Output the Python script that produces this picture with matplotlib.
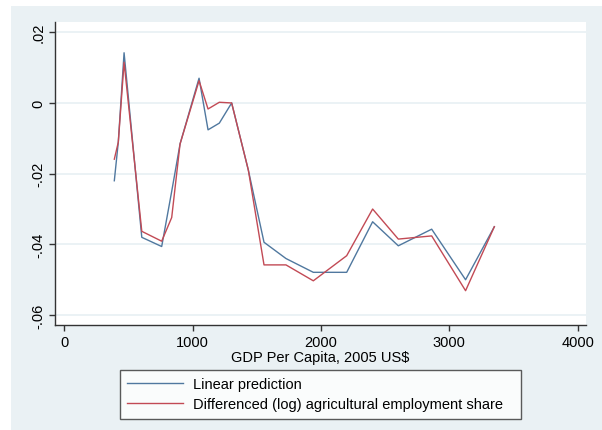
import matplotlib
matplotlib.use("Agg")
import matplotlib.pyplot as plt
from matplotlib.patches import Rectangle

# GDP per capita (x) and the two series
gdp = [390, 421, 466, 604, 759, 837, 902, 1050, 1120, 1208, 1304, 1434,
       1556, 1727, 1940, 2200, 2402, 2602, 2862, 3126, 3350]
linear_pred = [-0.0220, -0.0111, 0.0142, -0.0380, -0.0406, -0.0250, -0.0116,
               0.0070, -0.0076, -0.0057, 0.0000, -0.0190, -0.0394, -0.0440,
               -0.0479, -0.0479, -0.0336, -0.0404, -0.0357, -0.0500, -0.0350]
diff_ag_share = [-0.0159, -0.0111, 0.0115, -0.0363, -0.0391, -0.0324, -0.0116,
                 0.0063, -0.0017, 0.0002, 0.0000, -0.0190, -0.0458, -0.0458,
                 -0.0503, -0.0432, -0.0300, -0.0385, -0.0376, -0.0531, -0.0350]

x_ticks = [0, 1000, 2000, 3000, 4000]
y_ticks = [0.02, 0, -0.02, -0.04, -0.06]
y_labels = [".02", "0", "-.02", "-.04", "-.06"]

plt.rcParams["font.family"] = ["Liberation Sans", "DejaVu Sans"]

W, H = 602, 431
fig = plt.figure(figsize=(W / 100, H / 100), dpi=100)
fig.patch.set_facecolor("white")

# Stata-like light background panel
fig.patches.append(Rectangle((11 / W, 0), 1 - 11 / W, 1 - 7 / H,
                             transform=fig.transFigure, facecolor="#eaf1f4",
                             edgecolor="none", zorder=-1))

ax = fig.add_axes([55 / W, 1 - 326 / H, 531 / W, 303 / H])
ax.set_facecolor("white")

blue_line, = ax.plot(gdp, linear_pred, color="#50789f", linewidth=1.0,
                     label="Linear prediction")
red_line, = ax.plot(gdp, diff_ag_share, color="#c24a55", linewidth=1.0,
                    label="Differenced (log) agricultural employment share")

ax.set_xlim(-72, 4064)
ax.set_ylim(-0.0628, 0.0229)

ax.set_xticks(x_ticks)
ax.set_xticklabels([str(t) for t in x_ticks], fontsize=10.5)
ax.set_yticks(y_ticks)
ax.set_yticklabels(y_labels, fontsize=10.5, rotation=90, va="center")

# light horizontal grid
ax.grid(axis="y", color="#e8f0f4", linewidth=1.2)
ax.set_axisbelow(True)

for side in ["top", "right"]:
    ax.spines[side].set_visible(False)
for side in ["left", "bottom"]:
    ax.spines[side].set_color("#333333")
    ax.spines[side].set_linewidth(1.0)
ax.tick_params(direction="out", length=4, width=1, color="#333333", pad=3)

ax.set_xlabel("GDP Per Capita, 2005 US$", fontsize=10.5, labelpad=1)

# legend box below the plot, fixed width like the reference
fig.legend(handles=[blue_line, red_line], loc="upper left",
           bbox_to_anchor=(120 / W, 1 - 371 / H, 401 / W, 0.001),
           mode="expand", ncol=1, fontsize=10.5,
           frameon=True, fancybox=False, edgecolor="#333333",
           handlelength=3.8, handletextpad=0.7, borderpad=0.5,
           labelspacing=0.45, borderaxespad=0)
fig.legends[0].get_frame().set_linewidth(1.0)

fig.savefig("out.png", dpi=100)
